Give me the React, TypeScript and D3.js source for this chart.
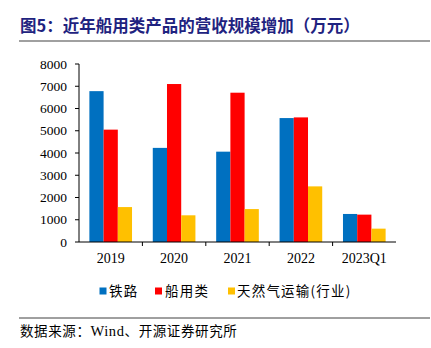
import React from "react";
import * as d3 from "d3";

const categories = ["2019", "2020", "2021", "2022", "2023Q1"];
const seriesNames = ["铁路", "船用类", "天然气运输(行业)"];
const railway = [6780, 4230, 4060, 5570, 1260];
const marine = [5050, 7100, 6710, 5600, 1230];
const gas = [1570, 1200, 1480, 2500, 600];
const yTicks = [0, 1000, 2000, 3000, 4000, 5000, 6000, 7000, 8000];
const colors = ["#0070C0", "#FF0000", "#FFC000"];

const W = 431;
const H = 348;
const left = 79;
const right = 396;
const top = 64;
const bottom = 242;

export default function App() {
  const series = [railway, marine, gas];
  const x = d3.scaleBand<string>().domain(categories).range([left, right]).paddingInner(0).paddingOuter(0);
  const inner = d3
    .scaleBand<number>()
    .domain([0, 1, 2])
    .range([0, x.bandwidth()])
    .paddingInner(0)
    .paddingOuter(0.73);
  const y = d3.scaleLinear().domain([0, 8000]).range([bottom, top]);
  const serif = "'Liberation Serif', 'Times New Roman', serif";
  const cjk = "'Noto Sans CJK SC', sans-serif";

  const legendItems = [
    { x: 99.5, tx: 109 },
    { x: 155, tx: 165 },
    { x: 228, tx: 237 },
  ];

  return (
    <svg width={W} height={H} style={{ position: "absolute", left: 0, top: 0, background: "#fff" }}>
      <text x={20} y={31.5} fontFamily={cjk} fontWeight="bold" fontSize={16.5} fill="#1F2380">
        图5：近年船用类产品的营收规模增加（万元）
      </text>
      <line x1={19} x2={430} y1={41} y2={41} stroke="#808080" strokeWidth={1.5} />

      {/* bars */}
      {categories.map((c, i) => (
        <g key={c}>
          {series.map((s, j) => (
            <rect
              key={j}
              x={(x(c) as number) + (inner(j) as number)}
              y={y(s[i])}
              width={inner.bandwidth()}
              height={y(0) - y(s[i])}
              fill={colors[j]}
            />
          ))}
        </g>
      ))}

      {/* y axis */}
      <line x1={left} x2={left} y1={top} y2={bottom} stroke="#000" strokeWidth={1} />
      {yTicks.map((t) => (
        <g key={t}>
          <line x1={left - 4} x2={left} y1={y(t)} y2={y(t)} stroke="#000" />
          <text
            x={left - 12}
            y={y(t)}
            dy="0.35em"
            textAnchor="end"
            fontFamily={serif}
            fontSize={13.5}
            fill="#000"
          >
            {t}
          </text>
        </g>
      ))}

      {/* x axis */}
      <line x1={left} x2={right} y1={bottom} y2={bottom} stroke="#000" strokeWidth={1} />
      {categories.map((c, i) => (
        <g key={c}>
          {i > 0 && (
            <line x1={x(c)} x2={x(c)} y1={bottom} y2={bottom + 4} stroke="#000" />
          )}
          <text
            x={(x(c) as number) + x.bandwidth() / 2}
            y={263}
            textAnchor="middle"
            fontFamily={serif}
            fontSize={14}
            fill="#000"
          >
            {c}
          </text>
        </g>
      ))}

      {/* legend */}
      {seriesNames.map((n, j) => (
        <g key={n}>
          <rect x={legendItems[j].x} y={287.5} width={7} height={7} fill={colors[j]} />
          <text
            x={legendItems[j].tx}
            y={291}
            dy="0.35em"
            fontFamily={cjk}
            fontSize={13.5}
            letterSpacing={1.2}
            fill="#000"
          >
            {n}
          </text>
        </g>
      ))}

      <line x1={19} x2={430} y1={318} y2={318} stroke="#404040" strokeWidth={1} />
      <text x={20} y={336} fontFamily={cjk} fontSize={13.5} letterSpacing={0.6} fill="#000">
        数据来源：<tspan fontFamily={serif} fontSize={14.5}>Wind</tspan>、开源证券研究所
      </text>
    </svg>
  );
}
